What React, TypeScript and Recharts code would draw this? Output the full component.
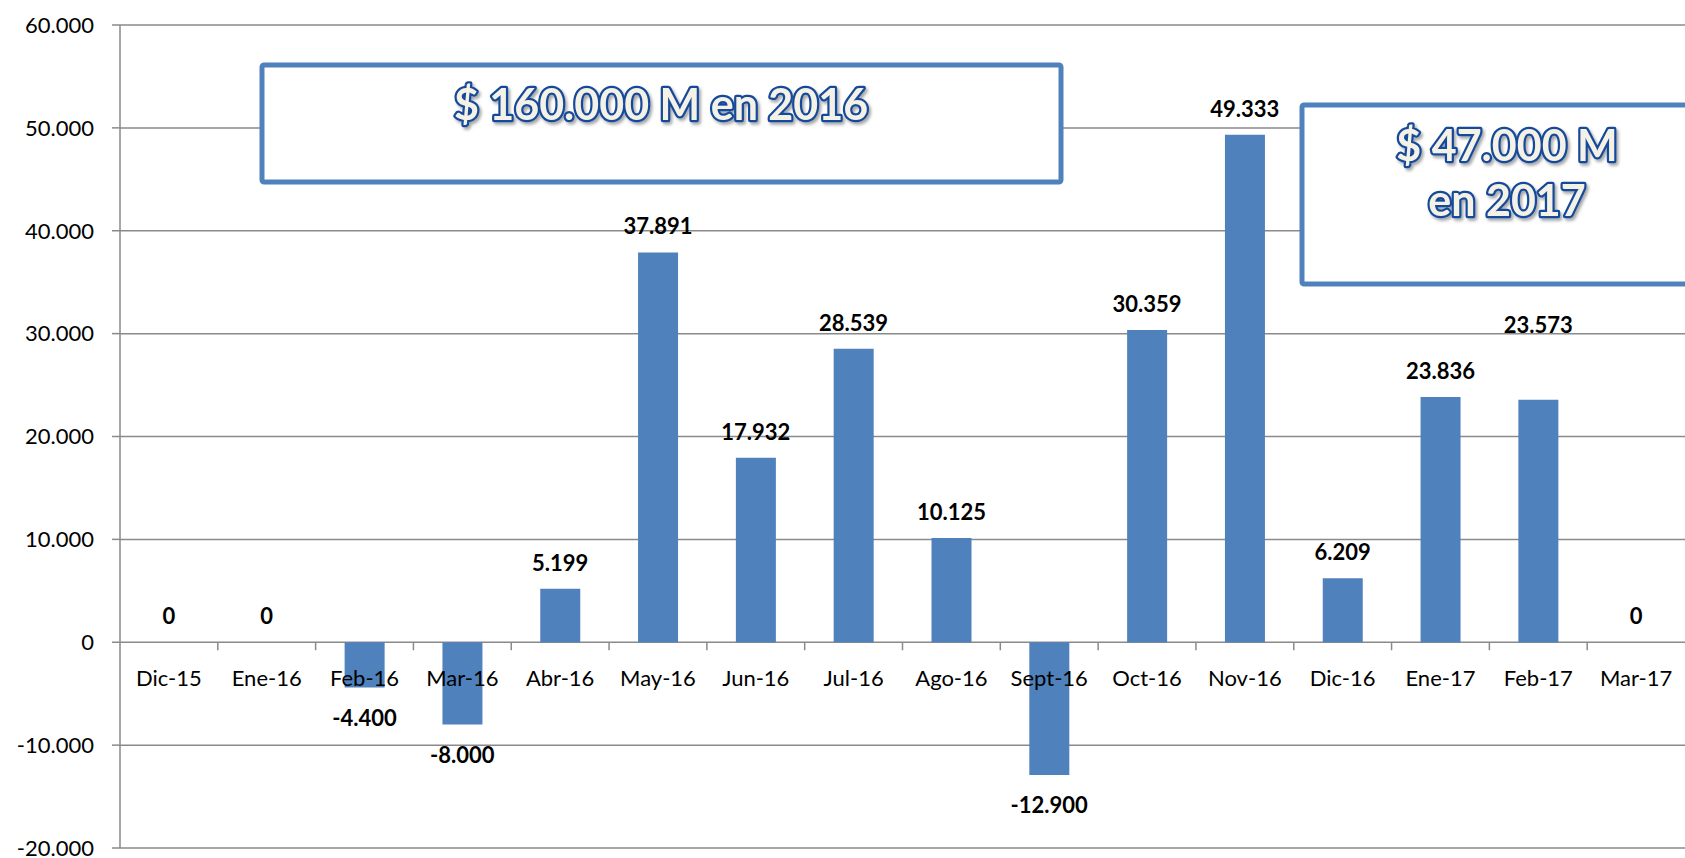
import React from 'react';
import { ComposedChart, Bar, Line, XAxis, YAxis, CartesianGrid, LabelList } from 'recharts';

const CATEGORIES = ['Dic-15', 'Ene-16', 'Feb-16', 'Mar-16', 'Abr-16', 'May-16', 'Jun-16', 'Jul-16', 'Ago-16', 'Sept-16', 'Oct-16', 'Nov-16', 'Dic-16', 'Ene-17', 'Feb-17', 'Mar-17'];
const VALUES = [0, 0, -4400, -8000, 5199, 37891, 17932, 28539, 10125, -12900, 30359, 49333, 6209, 23836, 23573, 0];
const Y_TICKS = [-20000, -10000, 0, 10000, 20000, 30000, 40000, 50000, 60000];
const BOX_2016 = ['$ 160.000 M en 2016'];
const BOX_2017 = ['$ 47.000 M', 'en 2017'];

const data = CATEGORIES.map((name, i) => ({ name, value: VALUES[i] }));

// layout constants
const W = 1685;
const H = 858;
const TOP = 25;
const LEFT = 120;
const XAXIS_H = 10;
const PLOT_W = W - LEFT;
const PLOT_H = H - TOP - XAXIS_H;
const Y_MIN = Y_TICKS[0];
const Y_MAX = Y_TICKS[Y_TICKS.length - 1];
const ZERO_Y = TOP + (PLOT_H * (Y_MAX - 0)) / (Y_MAX - Y_MIN);
const BAND = PLOT_W / CATEGORIES.length;
const GRID = '#8a8a8a';
const FONT = 'Lato, "Open Sans", sans-serif';
const EXTRA_LIFT: Record<string, number> = { 'Feb-17': 49 };

const fmt = (v: number) => {
  const s = Math.abs(v).toString().replace(/\B(?=(\d{3})+(?!\d))/g, '.');
  return (v < 0 ? '-' : '') + s;
};

const CatTick = (p: any) => {
  const { x, payload, index } = p;
  return (
    <g>
      {index > 0 && (
        <line x1={x - BAND / 2} x2={x - BAND / 2} y1={ZERO_Y} y2={ZERO_Y + 8} stroke={GRID} strokeWidth={1.5} />
      )}
      <text x={x} y={ZERO_Y + 35} textAnchor="middle" dominantBaseline="central" fontSize={22} fontFamily={FONT} fill="#000">
        {payload.value}
      </text>
    </g>
  );
};

// label placed relative to the value point (bar end) of the invisible line
const ValueLabel = (p: any) => {
  const { x, y, value, index } = p;
  const lift = EXTRA_LIFT[CATEGORIES[index]] ?? 0;
  const cy = value < 0 ? Number(y) + 30 : Number(y) - 26.5 - lift;
  return (
    <text x={Number(x)} y={cy} textAnchor="middle" dominantBaseline="central" fontSize={22} fontWeight={700} fontFamily={FONT} fill="#000">
      {fmt(value)}
    </text>
  );
};

const artStyle: any = {
  fontFamily: FONT,
  fontWeight: 700,
  fontSize: 43,
  fill: '#F4F2E6',
  stroke: '#174A99',
  strokeWidth: 4.5,
  paintOrder: 'stroke',
  strokeLinejoin: 'round',
  textAnchor: 'middle',
  filter: 'url(#artShadow)',
};

export default function App() {
  return (
    <div style={{ position: 'absolute', left: 0, top: 0, width: W, height: H, overflow: 'hidden', background: '#fff' }}>
      <ComposedChart width={W} height={H} data={data} margin={{ top: TOP, right: 0, bottom: 0, left: 0 }} barSize={40}>
        <CartesianGrid vertical={false} stroke={GRID} strokeWidth={1.5} />
        <XAxis dataKey="name" height={XAXIS_H} axisLine={false} tickLine={false} tick={<CatTick />} interval={0} />
        <YAxis
          width={LEFT}
          domain={[Y_MIN, Y_MAX]}
          ticks={Y_TICKS}
          tickFormatter={fmt}
          tickSize={8}
          tickMargin={18}
          interval={0}
          axisLine={{ stroke: GRID, strokeWidth: 1.5 }}
          tickLine={{ stroke: GRID, strokeWidth: 1.5 }}
          tick={{ fill: '#000', fontSize: 22, fontFamily: FONT }}
        />
        <Bar dataKey="value" fill="#4F81BD" isAnimationActive={false} />
        <Line dataKey="value" stroke="none" dot={false} activeDot={false} isAnimationActive={false}>
          <LabelList dataKey="value" content={<ValueLabel />} />
        </Line>
      </ComposedChart>
      <svg width={W} height={H} style={{ position: 'absolute', left: 0, top: 0, pointerEvents: 'none' }}>
        <defs>
          <filter id="artShadow" x="-10%" y="-30%" width="120%" height="160%">
            <feDropShadow dx="2" dy="2.5" stdDeviation="1.5" floodColor="#000" floodOpacity="0.35" />
          </filter>
        </defs>
        <rect x={262} y={65} width={799} height={117} fill="#fff" stroke="#4F81BD" strokeWidth={5} rx={2} />
        <text x={661} y={120} {...artStyle}>{BOX_2016[0]}</text>
        <rect x={1302} y={105} width={420} height={179} fill="#fff" stroke="#4F81BD" strokeWidth={5} rx={2} />
        <text x={1507} y={161} {...artStyle}>{BOX_2017[0]}</text>
        <text x={1507} y={216} {...artStyle}>{BOX_2017[1]}</text>
      </svg>
    </div>
  );
}
